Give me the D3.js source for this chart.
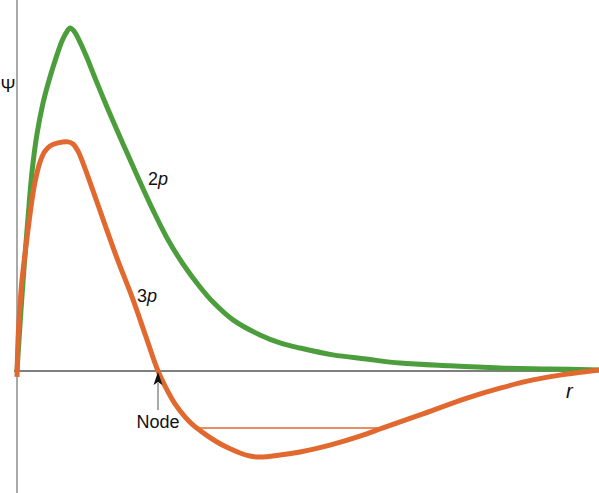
<!DOCTYPE html>
<html>
<head>
<meta charset="utf-8">
<script src="https://cdn.jsdelivr.net/npm/d3@7"></script>
<style>
  body { margin: 0; background: #fff; }
  svg text { font-family: "Liberation Sans", Arial, sans-serif; fill: #111; }
</style>
</head>
<body>
<svg id="chart" width="599" height="493"></svg>
<script>
// Radial wave function values (r in arbitrary units, psi normalised to the 2p peak)
var r2p = [0, 0.1, 0.2, 0.35, 0.55, 0.75, 1.0, 1.3, 1.65, 1.95, 2.25, 2.45, 2.65, 2.85, 3.15, 3.5, 3.8,
  4.15, 4.65, 5.15, 5.5, 6.15, 6.8, 7.5, 8.3, 9.15, 9.8, 10.8, 12.15, 13.15, 14.15, 15.8, 17.45, 19.15,
  21.65, 24.15, 26.65, 29.1];
var psi2p = [0, 0.09, 0.178, 0.3, 0.446, 0.58, 0.691, 0.781, 0.857, 0.913, 0.962, 0.985, 1.0, 0.991,
  0.959, 0.913, 0.869, 0.819, 0.749, 0.682, 0.636, 0.551, 0.469, 0.388, 0.312, 0.245, 0.201, 0.149,
  0.105, 0.082, 0.067, 0.047, 0.035, 0.023, 0.015, 0.009, 0.006, 0.003];

var r3p = [0, 0.05, 0.15, 0.25, 0.5, 0.75, 0.9, 1.15, 1.4, 1.65, 2.05, 2.55, 2.8, 3.05, 3.3, 3.75, 4.4,
  5.05, 5.75, 6.4, 7.05, 7.5, 7.9, 8.4, 8.75, 9.4, 10.0, 10.55, 11.15, 11.65, 12.15, 13.15, 14.15, 15.65,
  17.15, 18.3, 20.15, 22.5, 24.15, 25.8, 27.15, 28.3, 29.1];
var psi3p = [-0.017, 0.09, 0.192, 0.265, 0.388, 0.499, 0.551, 0.609, 0.641, 0.656, 0.665, 0.668, 0.662,
  0.641, 0.606, 0.534, 0.426, 0.321, 0.216, 0.108, 0, -0.055, -0.096, -0.134, -0.155, -0.184, -0.207,
  -0.224, -0.239, -0.248, -0.251, -0.245, -0.236, -0.216, -0.19, -0.166, -0.128, -0.079, -0.05, -0.026,
  -0.012, -0.003, 0.003];

var nodeR = 7.05;          // where 3p crosses zero
var levelPsi = -0.166;     // thin horizontal line across the 3p trough
var levelR = [8.95, 18.3];

var svg = d3.select("#chart"),
  width = +svg.attr("width"),
  height = +svg.attr("height");

var x = d3.scaleLinear().domain([0, 29.1]).range([17, 599]);
var y = d3.scaleLinear().domain([0, 1]).range([371, 28]);

var green = "#4c9e3c", orange = "#e1692f";

// Axes (plain lines, no ticks)
svg.append("line")
  .attr("x1", x(0)).attr("x2", x(0))
  .attr("y1", 0).attr("y2", height)
  .attr("stroke", "#8c8c8c").attr("stroke-width", 1.5);
svg.append("line")
  .attr("x1", x(0) - 3).attr("x2", width)
  .attr("y1", y(0)).attr("y2", y(0))
  .attr("stroke", "#555").attr("stroke-width", 1.5);

var line = d3.line()
  .x(function(d) { return x(d[0]); })
  .y(function(d) { return y(d[1]); })
  .curve(d3.curveCatmullRom.alpha(0.5));

// level line across the trough
svg.append("line")
  .attr("x1", x(levelR[0])).attr("x2", x(levelR[1]))
  .attr("y1", y(levelPsi)).attr("y2", y(levelPsi))
  .attr("stroke", orange).attr("stroke-width", 1.5);

svg.append("path")
  .datum(d3.zip(r2p, psi2p))
  .attr("d", line)
  .attr("fill", "none")
  .attr("stroke", green)
  .attr("stroke-width", 5);

svg.append("path")
  .datum(d3.zip(r3p, psi3p))
  .attr("d", line)
  .attr("fill", "none")
  .attr("stroke", orange)
  .attr("stroke-width", 5);

// Node arrow
var nx = x(nodeR);
svg.append("line")
  .attr("x1", nx).attr("x2", nx)
  .attr("y1", y(0) + 12).attr("y2", y(0) + 39)
  .attr("stroke", "#8c8c8c").attr("stroke-width", 1.5);
svg.append("path")
  .attr("d", "M" + nx + "," + (y(0) + 1) + " L" + (nx - 4.5) + "," + (y(0) + 14) +
    " L" + nx + "," + (y(0) + 11) + " L" + (nx + 4.5) + "," + (y(0) + 14) + "Z")
  .attr("fill", "#111");
svg.append("text")
  .attr("x", nx).attr("y", y(0) + 57)
  .attr("text-anchor", "middle")
  .style("font-size", "18px")
  .text("Node");

// Labels
svg.append("text")
  .attr("x", 8).attr("y", 92)
  .attr("text-anchor", "middle")
  .style("font-size", "18px")
  .text("\u03a8");

function orbitalLabel(px, py, n) {
  var t = svg.append("text").attr("x", px).attr("y", py).style("font-size", "18px");
  t.append("tspan").text(n);
  t.append("tspan").style("font-style", "italic").text("p");
}
orbitalLabel(148, 185, "2");
orbitalLabel(137, 302, "3");

svg.append("text")
  .attr("x", 566).attr("y", 398)
  .style("font-size", "20px")
  .style("font-style", "italic")
  .text("r");
</script>
</body>
</html>
